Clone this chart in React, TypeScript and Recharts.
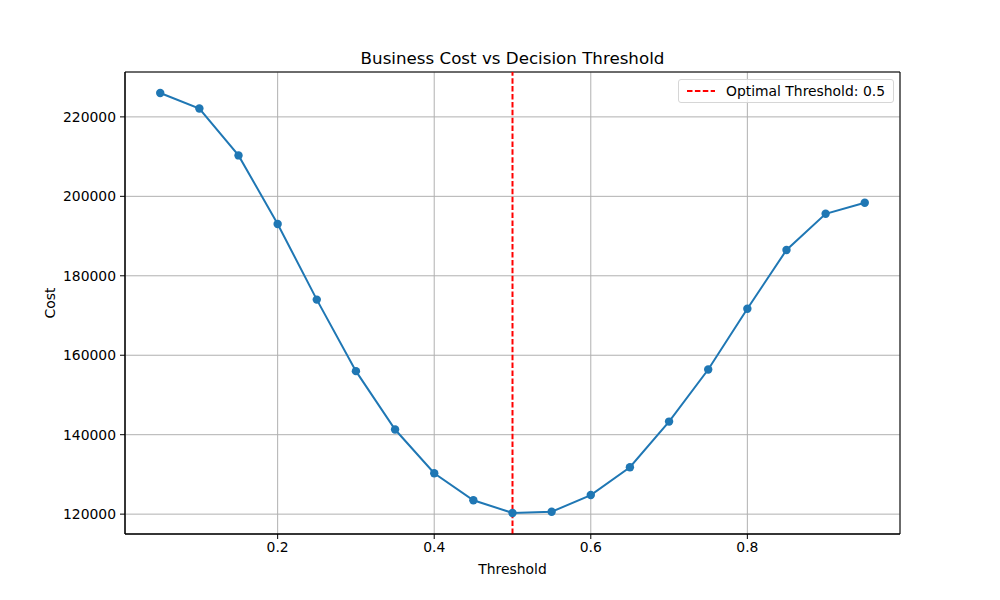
import { LineChart, Line, XAxis, YAxis, CartesianGrid, ReferenceLine, ReferenceArea, Label } from "recharts"

const thresholds = [0.05, 0.1, 0.15, 0.2, 0.25, 0.3, 0.35, 0.4, 0.45, 0.5, 0.55, 0.6, 0.65, 0.7, 0.75, 0.8, 0.85, 0.9, 0.95]
const costs = [
  226000, 222100, 210300, 193050, 174000, 156000, 141300, 130300, 123500, 120300,
  120600, 124800, 131800, 143300, 156400, 171700, 186500, 195600, 198400,
]
const xTicks = [0.2, 0.4, 0.6, 0.8]
const yTicks = [120000, 140000, 160000, 180000, 200000, 220000]
const optimalThreshold = 0.5

const data = thresholds.map((t, i) => ({ threshold: t, cost: costs[i] }))

const font = "'DejaVu Sans', sans-serif"
const tickStyle = { fill: "#000", fontSize: 13.9, fontFamily: font }

// legend drawn as an overlay so it doesn't push the plot area down
function LegendBox() {
  return (
    <div
      style={{
        position: "absolute",
        right: 106,
        top: 79,
        display: "flex",
        alignItems: "center",
        border: "1px solid #d6d6d6",
        borderRadius: 3,
        background: "rgba(255,255,255,0.8)",
        padding: "3px 8px 3px 7px",
        fontSize: 13.9,
        color: "#000",
      }}
    >
      <svg width={30} height={10} style={{ marginRight: 10 }}>
        <line x1={1} y1={5} x2={29} y2={5} stroke="red" strokeWidth={2} strokeDasharray="5.5 2.4" />
      </svg>
      Optimal Threshold: {optimalThreshold}
    </div>
  )
}

export default function App() {
  return (
    <div style={{ position: "absolute", left: 0, top: 0, width: 1000, height: 600, background: "#fff", fontFamily: font }}>
      <div
        style={{
          position: "absolute",
          left: 125,
          width: 775,
          top: 48,
          textAlign: "center",
          fontSize: 16.7,
          color: "#000",
        }}
      >
        Business Cost vs Decision Threshold
      </div>
      <LineChart width={1000} height={600} data={data} margin={{ top: 72, right: 100, bottom: 20, left: 0 }}>
        <CartesianGrid stroke="#b0b0b0" strokeWidth={1} />
        <XAxis
          dataKey="threshold"
          type="number"
          domain={[0.005, 0.995]}
          ticks={xTicks}
          tickFormatter={(v: number) => v.toFixed(1)}
          height={46}
          tick={tickStyle}
          tickSize={5}
          tickMargin={3}
          stroke="#000"
          allowDataOverflow
        >
          <Label value="Threshold" position="insideBottom" offset={6} style={{ fill: "#000", fontSize: 13.9, fontFamily: font }} />
        </XAxis>
        <YAxis
          type="number"
          domain={[115000, 231300]}
          ticks={yTicks}
          width={125}
          tick={tickStyle}
          tickSize={5}
          tickMargin={4}
          stroke="#000"
          allowDataOverflow
        >
          <Label value="Cost" angle={-90} position="center" dx={-12} style={{ fill: "#000", fontSize: 13.9, fontFamily: font }} />
        </YAxis>
        <ReferenceArea x1={0.005} x2={0.995} y1={115000} y2={231300} fill="none" stroke="#000" strokeWidth={1} ifOverflow="visible" />
        <ReferenceLine x={optimalThreshold} stroke="red" strokeWidth={2} strokeDasharray="5.5 2.4" />
        <Line
          dataKey="cost"
          stroke="#1f77b4"
          strokeWidth={2}
          dot={{ r: 4.2, fill: "#1f77b4", stroke: "#1f77b4", strokeWidth: 0 }}
          activeDot={false}
          isAnimationActive={false}
        />
      </LineChart>
      <LegendBox />
    </div>
  )
}
